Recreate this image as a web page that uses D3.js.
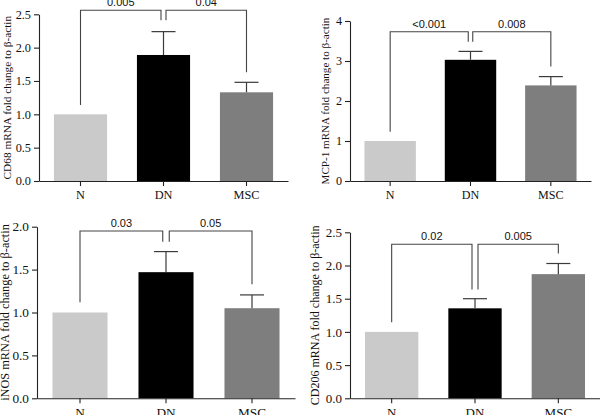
<!DOCTYPE html>
<html>
<head>
<meta charset="utf-8">
<script src="https://cdn.jsdelivr.net/npm/d3@7"></script>
<style>
  body { margin: 0; background: #fff; }
  svg { display: block; }
</style>
</head>
<body>
<main></main>
<script>
// Dimensions
const width = 600;
const height = 415;

// Data
const groups = ["N", "DN", "MSC"];
const barColors = ["#cacaca", "#000000", "#7e7e7e"];

const cd68Mean = [1.0, 1.89, 1.33];
const cd68Err = [0, 0.35, 0.15];
const cd68P = ["0.005", "0.04"];

const mcp1Mean = [1.0, 3.03, 2.39];
const mcp1Err = [0, 0.21, 0.22];
const mcp1P = ["<0.001", "0.008"];

const inosMean = [1.0, 1.47, 1.05];
const inosErr = [0, 0.24, 0.155];
const inosP = ["0.03", "0.05"];

const cd206Mean = [1.0, 1.355, 1.87];
const cd206Err = [0, 0.145, 0.16];
const cd206P = ["0.02", "0.005"];

const ticksHalf25 = [0, 0.5, 1.0, 1.5, 2.0, 2.5];
const ticksHalf20 = [0, 0.5, 1.0, 1.5, 2.0];
const ticksInt4 = [0, 1, 2, 3, 4];

// Panel layout
const panels = [
  {
    title: "CD68 mRNA fold change to β-actin",
    mean: cd68Mean, err: cd68Err, p: cd68P,
    ymax: 2.5, ticks: ticksHalf25, fmt: ".1f",
    xr: [39, 288], yr: [181, 14.3], titleX: 7.5, fs: 11.3,
    brTop: 2.56, brLegs: [1.14, 2.41, 1.63], gap: 5
  },
  {
    title: "MCP-1 mRNA fold change to β-actin",
    mean: mcp1Mean, err: mcp1Err, p: mcp1P,
    ymax: 4, ticks: ticksInt4, fmt: "d",
    xr: [350, 591], yr: [181, 21], titleX: 325, fs: 11.1,
    brTop: 3.73, brLegs: [1.23, 3.48, 2.86], gap: 4.5
  },
  {
    title: "iNOS mRNA fold change to β-actin",
    mean: inosMean, err: inosErr, p: inosP,
    ymax: 2.0, ticks: ticksHalf20, fmt: ".1f",
    xr: [37, 295], yr: [398.3, 226.7], titleX: 5, fs: 12.3,
    brTop: 1.95, brLegs: [1.12, 1.825, 1.33], gap: 6.5
  },
  {
    title: "CD206 mRNA fold change to β-actin",
    mean: cd206Mean, err: cd206Err, p: cd206P,
    ymax: 2.5, ticks: ticksHalf25, fmt: ".1f",
    xr: [350, 600], yr: [398.3, 232.3], titleX: 315, fs: 12,
    brTop: 2.32, brLegs: [1.145, 1.64, 2.18], gap: 6
  }
];

const svg = d3
  .select("main")
  .append("svg")
  .attr("width", width)
  .attr("height", height);

const serif = "'Liberation Serif', 'DejaVu Serif', serif";
const sans = "'Liberation Sans', Arial, sans-serif";

panels.forEach((pn) => {
  const g = svg.append("g");

  const x = d3
    .scaleBand()
    .domain(groups)
    .range(pn.xr)
    .paddingInner(0.36)
    .paddingOuter(0.18);

  const y = d3.scaleLinear().domain([0, pn.ymax]).range(pn.yr);

  const cx = (d) => x(d) + x.bandwidth() / 2;
  const errTop = (d) => {
    const i = groups.indexOf(d);
    return y(pn.mean[i] + pn.err[i]);
  };

  // Bars
  g.selectAll(".bar")
    .data(groups)
    .enter()
    .append("rect")
    .attr("class", "bar")
    .attr("x", (d) => x(d))
    .attr("y", (d, i) => y(pn.mean[i]))
    .attr("width", x.bandwidth())
    .attr("height", (d, i) => y(0) - y(pn.mean[i]))
    .attr("fill", (d, i) => barColors[i]);

  // Error bars (upper whisker only)
  const eb = g
    .selectAll(".err")
    .data(groups.filter((d, i) => pn.err[i] > 0))
    .enter()
    .append("g")
    .attr("class", "err")
    .attr("stroke", "#3a3a3a")
    .attr("stroke-width", 1.2);

  eb.append("line")
    .attr("x1", cx)
    .attr("x2", cx)
    .attr("y1", (d) => y(pn.mean[groups.indexOf(d)]))
    .attr("y2", errTop);

  eb.append("line")
    .attr("x1", (d) => cx(d) - 12)
    .attr("x2", (d) => cx(d) + 12)
    .attr("y1", errTop)
    .attr("y2", errTop);

  // Axes
  const yAxis = d3
    .axisLeft(y)
    .tickValues(pn.ticks)
    .tickFormat(d3.format(pn.fmt))
    .tickSize(5)
    .tickSizeOuter(0)
    .tickPadding(3);

  const xAxis = d3.axisBottom(x).tickSize(5).tickSizeOuter(0).tickPadding(4);

  const ya = g
    .append("g")
    .attr("transform", `translate(${pn.xr[0]},0)`)
    .call(yAxis);

  const xa = g
    .append("g")
    .attr("transform", `translate(0,${pn.yr[0]})`)
    .call(xAxis);

  [ya, xa].forEach((a) => {
    a.selectAll("path, line").attr("stroke", "#222").attr("stroke-width", 1.1);
    a.selectAll("text")
      .attr("fill", "#111")
      .style("font-family", serif)
      .style("font-size", pn.fs + 1 + "px");
  });

  // Y title
  g.append("text")
    .attr(
      "transform",
      `translate(${pn.titleX},${(pn.yr[0] + pn.yr[1]) / 2}) rotate(-90)`
    )
    .attr("text-anchor", "middle")
    .attr("dy", "0.35em")
    .attr("fill", "#111")
    .style("font-family", serif)
    .style("font-size", pn.fs + "px")
    .text(pn.title);

  // Significance brackets
  const yTop = y(pn.brTop);
  const pairs = [
    [cx(groups[0]), y(pn.brLegs[0]), cx(groups[1]) - pn.gap / 2, y(pn.brLegs[1])],
    [cx(groups[1]) + pn.gap / 2, y(pn.brLegs[1]), cx(groups[2]), y(pn.brLegs[2])]
  ];

  pairs.forEach((pr, k) => {
    g.append("path")
      .attr("d", `M${pr[0]},${pr[1]}V${yTop}H${pr[2]}V${pr[3]}`)
      .attr("fill", "none")
      .attr("stroke", "#444")
      .attr("stroke-width", 1.1);

    g.append("text")
      .attr("x", (pr[0] + pr[2]) / 2)
      .attr("y", yTop - 4)
      .attr("text-anchor", "middle")
      .attr("fill", "#111")
      .style("font-family", sans)
      .style("font-size", "11px")
      .text(pn.p[k]);
  });
});
</script>
</body>
</html>
